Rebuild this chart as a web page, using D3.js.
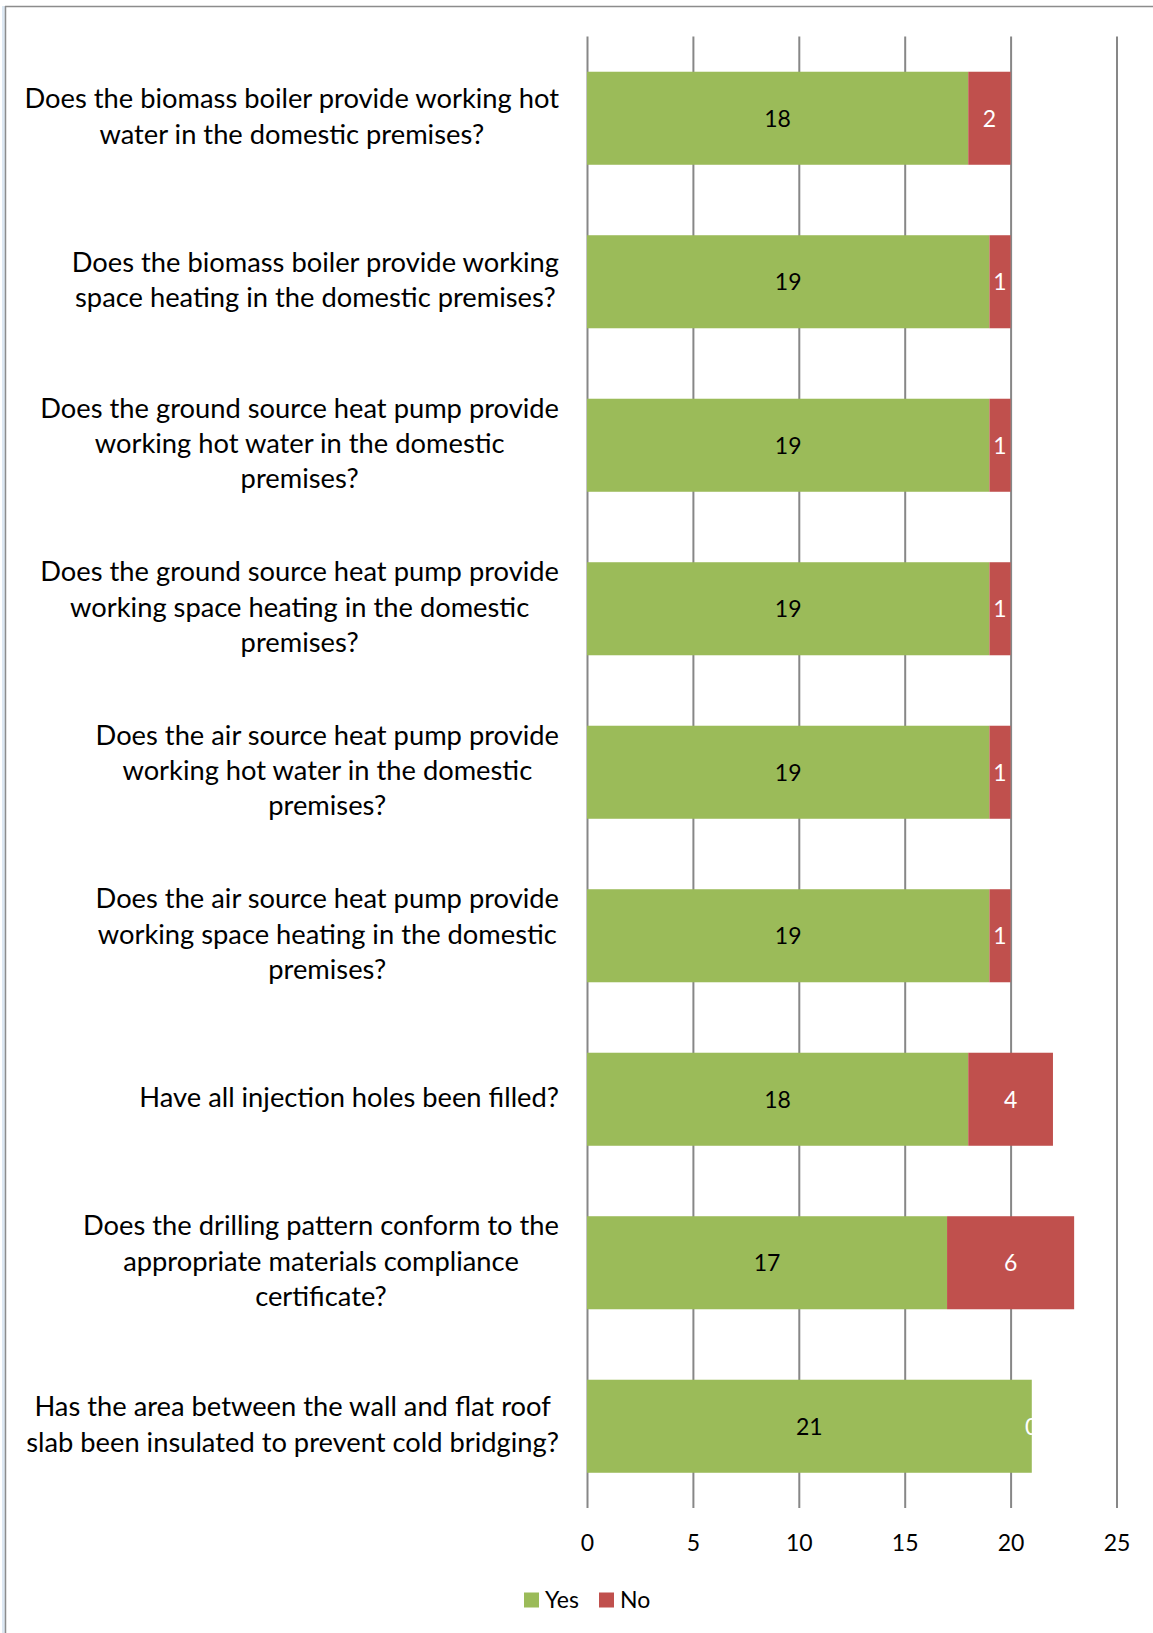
<!DOCTYPE html>
<html>
<head>
<meta charset="utf-8">
<script src="https://cdn.jsdelivr.net/npm/d3@7"></script>
<style>
  html, body { margin: 0; padding: 0; background: #fff; }
  svg { display: block; }
  text { font-family: Lato, "Open Sans", sans-serif; fill: #000; }
</style>
</head>
<body>
<svg id="chart" width="1153" height="1633"></svg>
<script>
// Survey questions, one entry per wrapped line
const categories = [
  ["Does the biomass boiler provide working hot", "water in the domestic premises?"],
  ["Does the biomass boiler provide working", "space heating in the domestic premises?"],
  ["Does the ground source heat pump provide", "working hot water in the domestic", "premises?"],
  ["Does the ground source heat pump provide", "working space heating in the domestic", "premises?"],
  ["Does the air source heat pump provide", "working hot water in the domestic", "premises?"],
  ["Does the air source heat pump provide", "working space heating in the domestic", "premises?"],
  ["Have all injection holes been filled?"],
  ["Does the drilling pattern conform to the", "appropriate materials compliance", "certificate?"],
  ["Has the area between the wall and flat roof", "slab been insulated to prevent cold bridging?"]
];
const yesValues = [18, 19, 19, 19, 19, 19, 18, 17, 21];
const noValues  = [2, 1, 1, 1, 1, 1, 4, 6, 0];
const xTicks = [0, 5, 10, 15, 20, 25];
const seriesNames = ["Yes", "No"];
const seriesColors = ["#9BBB59", "#C0504D"];

const svg = d3.select("#chart");
const W = 1153, H = 1633;
const plot = { left: 587, right: 1116.5, top: 36.5, bottom: 1508 };

// frame edges
svg.append("rect").attr("x", 2).attr("y", 6).attr("width", 3).attr("height", H - 6).attr("fill", "#dde8f3");
svg.append("line").attr("x1", 5.5).attr("x2", 5.5).attr("y1", 6).attr("y2", H)
  .attr("stroke", "#8c8c8c").attr("stroke-width", 1.5);
svg.append("line").attr("x1", 5).attr("x2", W).attr("y1", 6.5).attr("y2", 6.5)
  .attr("stroke", "#8c8c8c").attr("stroke-width", 1.5);

const x = d3.scaleLinear().domain([0, 25]).range([plot.left, plot.right]);
const y = d3.scaleBand().domain(d3.range(categories.length))
  .range([plot.top, plot.bottom]).paddingInner(0.431).paddingOuter(0.2155);

// vertical gridlines
const grid = svg.append("g").attr("transform", `translate(0,${plot.bottom})`)
  .call(d3.axisBottom(x).tickValues(xTicks).tickSize(-(plot.bottom - plot.top)).tickFormat(""));
grid.select(".domain").remove();
grid.selectAll(".tick line").attr("stroke", "#878787").attr("stroke-width", 2);

// tick labels
const axis = svg.append("g").attr("transform", `translate(0,${plot.bottom})`)
  .call(d3.axisBottom(x).tickValues(xTicks).tickSize(0).tickPadding(27).tickFormat(d3.format("d")));
axis.select(".domain").remove();
axis.selectAll(".tick text").attr("font-family", "Lato, sans-serif").attr("font-size", 23).attr("fill", "#000");

// stacked bars
const stacked = categories.map((c, i) => ({ i, yes: yesValues[i], no: noValues[i] }));
const rows = svg.append("g").selectAll("g").data(stacked).join("g");

rows.append("rect")
  .attr("x", d => x(0)).attr("y", d => y(d.i))
  .attr("width", d => x(d.yes) - x(0)).attr("height", y.bandwidth())
  .attr("fill", seriesColors[0]);
rows.append("rect")
  .attr("x", d => x(d.yes)).attr("y", d => y(d.i))
  .attr("width", d => x(d.yes + d.no) - x(d.yes)).attr("height", y.bandwidth())
  .attr("fill", seriesColors[1]);

// value labels
rows.append("text")
  .attr("x", d => x(d.yes / 2)).attr("y", d => y(d.i) + y.bandwidth() / 2)
  .attr("dy", "0.36em").attr("text-anchor", "middle").attr("font-size", 23)
  .text(d => d.yes);
rows.append("text")
  .attr("x", d => x(d.yes + d.no / 2)).attr("y", d => y(d.i) + y.bandwidth() / 2)
  .attr("dy", "0.36em").attr("text-anchor", "middle").attr("font-size", 23)
  .style("fill", "#fff")
  .text(d => d.no);

// category labels: lines centred on each other, block right-aligned to the axis
const labelRight = 559;
const lineH = 35.4;
categories.forEach((lines, i) => {
  const g = svg.append("g");
  const cy = y(i) + y.bandwidth() / 2 - 2;
  const texts = lines.map((ln, k) => g.append("text")
    .attr("font-size", 27.3)
    .attr("y", cy + (k - (lines.length - 1) / 2) * lineH)
    .attr("dy", "0.36em")
    .text(ln));
  const maxW = d3.max(texts, t => t.node().getComputedTextLength());
  texts.forEach(t => t.attr("x", labelRight - maxW / 2).attr("text-anchor", "middle"));
});

// legend
const legend = svg.append("g");
const legendItems = [{ x: 524, tx: 545 }, { x: 599, tx: 620 }];
seriesNames.forEach((name, k) => {
  legend.append("rect").attr("x", legendItems[k].x).attr("y", 1592.5)
    .attr("width", 15).attr("height", 15).attr("fill", seriesColors[k]);
  legend.append("text").attr("x", legendItems[k].tx).attr("y", 1600)
    .attr("dy", "0.36em").attr("font-size", 23).text(name);
});
</script>
</body>
</html>
